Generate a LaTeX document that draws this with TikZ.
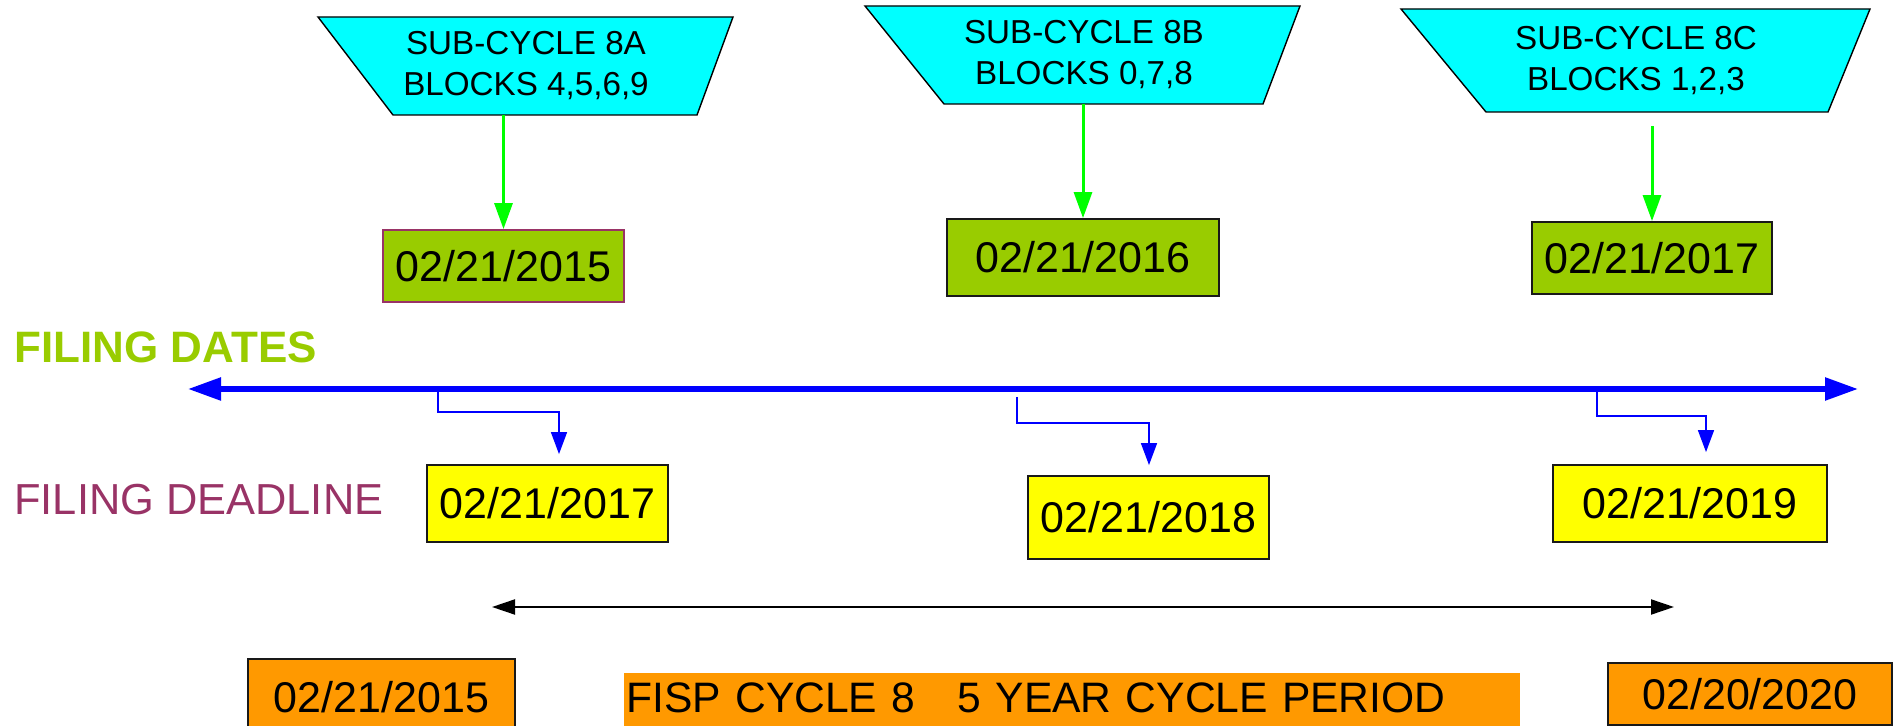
\documentclass[tikz,border=0pt]{standalone}
\usepackage{fontspec}
\setmainfont{Liberation Sans}
\usetikzlibrary{arrows.meta}
\definecolor{subcyan}{HTML}{00FFFF}
\definecolor{fileg}{HTML}{99CC00}
\definecolor{deady}{HTML}{FFFF00}
\definecolor{cycleo}{HTML}{FF9900}
\definecolor{plum}{HTML}{993366}
\definecolor{lime}{HTML}{00FF00}
\definecolor{tblue}{HTML}{0000FF}
\tikzset{
  subshape/.style={fill=subcyan, draw=black, line width=0.7pt},
  subtext/.style={align=center, inner sep=0pt, minimum height=49pt,
    font=\fontsize{16.6pt}{20.5pt}\selectfont},
  datebox/.style={draw=black!90, line width=0.9pt, inner sep=0pt,
    font=\fontsize{21.5pt}{25pt}\selectfont},
  filebox/.style={datebox, fill=fileg},
  deadbox/.style={datebox, fill=deady},
  cyclebox/.style={datebox, fill=cycleo},
  garrow/.style={draw=lime, line width=1.5pt, -{Triangle[length=13pt,width=9pt]}},
  barrow/.style={draw=tblue, line width=0.75pt, -{Triangle[length=11pt,width=8pt]}},
  rowlabel/.style={anchor=west, inner sep=0pt, font=\fontsize{21.7pt}{25pt}\selectfont}
}
\begin{document}
\begin{tikzpicture}[x=0.5pt,y=-0.5pt]
  \useasboundingbox (0,0) rectangle (1896,726);
  \filldraw[subshape] (318,17) -- (733,17) -- (697,115) -- (393,115) -- cycle;
  \filldraw[subshape] (865,6) -- (1300,6) -- (1263,104) -- (944,104) -- cycle;
  \filldraw[subshape] (1401,9) -- (1870,9) -- (1828,112) -- (1486,112) -- cycle;
  \node[subtext] (sa) at (526,66) {SUB-CYCLE 8A\\BLOCKS 4,5,6,9};
  \node[subtext] (sb) at (1084,55) {SUB-CYCLE 8B\\BLOCKS 0,7,8};
  \node[subtext, minimum height=51.5pt] (sc) at (1636,60.5) {SUB-CYCLE 8C\\BLOCKS 1,2,3};
  \node[filebox, draw=plum, minimum width=120.5pt, minimum height=36pt] (fa) at (503.5,266) {02/21/2015};
  \node[filebox, minimum width=136pt, minimum height=38.5pt] (fb) at (1083,257.5) {02/21/2016};
  \node[filebox, minimum width=120pt, minimum height=36pt] (fc) at (1652,258) {02/21/2017};
  \draw[garrow] (sa.south -| fa.north) -- (fa.north);
  \draw[garrow] (sb.south -| fb.north) -- (fb.north);
  \draw[garrow, shorten <=7pt] (sc.south -| fc.north) -- (fc.north);
  \node[rowlabel, text=fileg, font=\bfseries\fontsize{22pt}{25pt}\selectfont] (fd) at (14,347.5) {FILING DATES};
  \node[rowlabel, text=plum] (fdl) at (14,500) {FILING DEADLINE};
  \coordinate (tl) at (188,389);
  \coordinate (tr) at (1858,389);
  \draw[tblue, line width=2.75pt, {Triangle[length=16.5pt,width=11pt]}-{Triangle[length=16.5pt,width=11pt]}] (tl) -- (tr);
  \node[deadbox, minimum width=120.5pt, minimum height=38.5pt] (dl1) at (547.5,503.5) {02/21/2017};
  \node[deadbox, minimum width=120.5pt, minimum height=41.5pt] (dl2) at (1148.5,517.5) {02/21/2018};
  \node[deadbox, minimum width=137pt, minimum height=38.5pt] (dl3) at (1690,503.5) {02/21/2019};
  \coordinate (k1) at (438,391);
  \coordinate (k2) at (1017,397);
  \coordinate (k3) at (1597,391);
  \draw[barrow] (k1) -- ++(0,21) -| ([xshift=5.75pt,yshift=5pt]dl1.north);
  \draw[barrow] (k2) -- ++(0,26) -| ([xshift=0.25pt,yshift=5pt]dl2.north);
  \draw[barrow] (k3) -- ++(0,25) -| ([xshift=8pt,yshift=6pt]dl3.north);
  \coordinate (ps) at (492,607);
  \coordinate (pe) at (1674,607);
  \draw[line width=1pt, {Triangle[length=11.5pt,width=7.5pt]}-{Triangle[length=11.5pt,width=7.5pt]}] (ps) -- (pe);
  \node[cyclebox, minimum width=133.5pt, minimum height=38pt] (cs) at (381.5,697) {02/21/2015};
  \node[cyclebox, minimum width=142pt, minimum height=31pt] (ce) at (1750,694) {02/20/2020};
  \node[fill=cycleo, anchor=north west, text width=446pt, inner xsep=1pt, inner ysep=0pt,
    minimum height=29pt, text depth=5pt, align=left,
    font=\fontsize{21.3pt}{25pt}\selectfont] (fisp) at (624,673) {FISP CYCLE 8\ \ \ 5 YEAR CYCLE PERIOD};
\end{tikzpicture}
\end{document}
